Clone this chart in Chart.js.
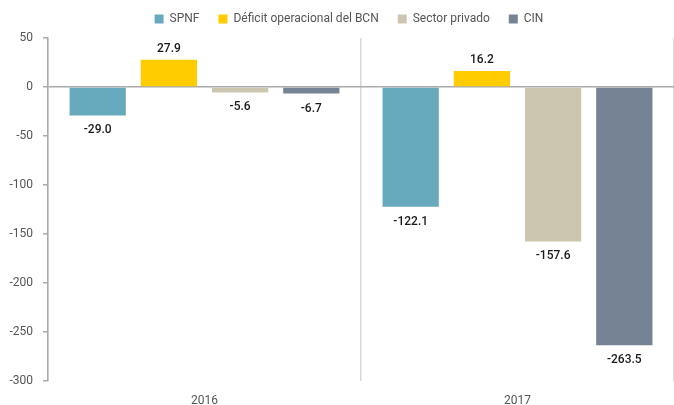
<!DOCTYPE html>
<html>
<head>
<meta charset="utf-8">
<script src="https://cdn.jsdelivr.net/npm/chart.js@4/dist/chart.umd.min.js"></script>
<style>
  html, body { margin: 0; padding: 0; background: #fff; }
  #wrap { width: 674px; height: 405px; }
</style>
</head>
<body>
<div id="wrap"><canvas id="c"></canvas></div>
<script>
// Años comparados
const categories = ['2016', '2017'];

// Series (millones)
const spnf = [-29.0, -122.1];
const deficitBCN = [27.9, 16.2];
const sectorPrivado = [-5.6, -157.6];
const cin = [-6.7, -263.5];

const seriesNames = ['SPNF', 'Déficit operacional del BCN', 'Sector privado', 'CIN'];
const seriesColors = ['#67a9bd', '#ffcc00', '#ccc5b0', '#758394'];

// Eje vertical
const yTicks = [50, 0, -50, -100, -150, -200, -250, -300];

const FONT = 'Roboto, "Liberation Sans", sans-serif';

// Etiquetas de valor sobre/bajo cada barra
const valueLabels = {
  id: 'valueLabels',
  afterDatasetsDraw(chart) {
    const ctx = chart.ctx;
    ctx.save();
    ctx.font = '500 12px ' + FONT;
    ctx.fillStyle = '#1a1a1a';
    ctx.textAlign = 'center';
    chart.data.datasets.forEach((ds, i) => {
      const meta = chart.getDatasetMeta(i);
      meta.data.forEach((bar, j) => {
        const v = ds.data[j];
        const txt = v.toFixed(1);
        if (v >= 0) {
          ctx.textBaseline = 'bottom';
          ctx.fillText(txt, bar.x, bar.y - 5);
        } else {
          ctx.textBaseline = 'top';
          ctx.fillText(txt, bar.x, bar.y + 9);
        }
      });
    });
    ctx.restore();
  }
};

// Altura fija y leve desplazamiento a la derecha de la leyenda superior
const legendBox = {
  id: 'legendBox',
  afterInit(chart) {
    const lg = chart.legend;
    if (!lg) return;
    const fit = lg.fit.bind(lg);
    lg.fit = function () { fit(); this.height = 44; };
  },
  afterLayout(chart) {
    const lg = chart.legend;
    if (!lg) return;
    lg.left += 9;
    lg.right += 9;
  }
};

const values = [spnf, deficitBCN, sectorPrivado, cin];

new Chart(document.getElementById('c'), {
  type: 'bar',
  data: {
    labels: categories,
    datasets: values.map((d, i) => ({
      label: seriesNames[i],
      data: d,
      backgroundColor: seriesColors[i],
      borderWidth: 0,
      categoryPercentage: 0.91,
      barPercentage: 0.79
    }))
  },
  options: {
    responsive: true,
    maintainAspectRatio: false,
    animation: false,
    layout: { padding: { top: -6, right: -6, bottom: 0, left: 0 } },
    plugins: {
      legend: {
        position: 'top',
        align: 'center',
        labels: {
          boxWidth: 9,
          boxHeight: 9,
          padding: 19,
          color: '#555',
          font: { family: FONT, size: 12 }
        }
      },
      tooltip: { enabled: false }
    },
    scales: {
      x: {
        afterFit(scale) { scale.height = 24; },
        grid: {
          offset: true,
          drawTicks: false,
          color: '#d9d9d9',
          lineWidth: 1.5
        },
        border: { display: false },
        ticks: {
          color: '#555',
          padding: 13,
          font: { family: FONT, size: 12 }
        }
      },
      y: {
        min: -300,
        max: 50,
        afterFit(scale) { scale.width = 48; },
        afterBuildTicks(scale) {
          scale.ticks = yTicks.map(v => ({ value: v }));
        },
        grid: {
          drawOnChartArea: true,
          color: (c) => (c.tick && c.tick.value === 0 ? '#aaaaaa' : 'rgba(0,0,0,0)'),
          tickColor: '#aaaaaa',
          tickLength: 5,
          lineWidth: 1.5
        },
        border: { display: true, color: '#aaaaaa', width: 1.5 },
        ticks: {
          color: '#555',
          padding: 10,
          font: { family: FONT, size: 12 }
        }
      }
    }
  },
  plugins: [valueLabels, legendBox]
});
</script>
</body>
</html>
